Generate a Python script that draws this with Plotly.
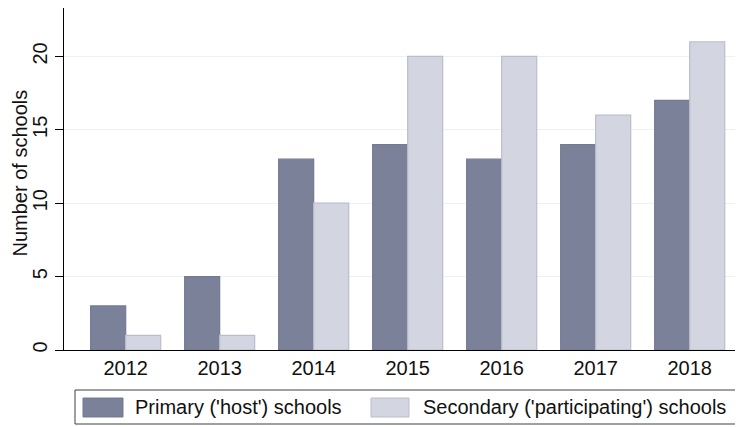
import plotly.graph_objects as go

years = ["2012", "2013", "2014", "2015", "2016", "2017", "2018"]
primary = [3, 5, 13, 14, 13, 14, 17]
secondary = [1, 1, 10, 20, 20, 16, 21]
series_names = ["Primary ('host') schools", "Secondary ('participating') schools"]
y_title = "Number of schools"
colors = ["#7a8199", "#d3d5e0"]
edges = ["#737a93", "#babdcc"]

fig = go.Figure()
for vals, name, c, e in zip([primary, secondary], series_names, colors, edges):
    fig.add_trace(go.Bar(
        x=years, y=vals, name=name,
        marker=dict(color=c, line=dict(color=e, width=1.2)),
    ))

# page body has an 8px margin, so the figure is sized 8px smaller each way
fig.update_layout(
    width=735, height=419,
    margin=dict(l=56, r=0, t=0, b=77),
    paper_bgcolor="white", plot_bgcolor="white",
    font=dict(family="Liberation Sans, Arial, sans-serif", size=20, color="#111111"),
    barmode="group", bargap=0.255, bargroupgap=0,
    showlegend=False,
)

# legend box, drawn by hand below the plot
fig.add_shape(type="rect", xref="paper", yref="paper",
              x0=0.0162, x1=0.9926, y0=-0.2164, y1=-0.117,
              line=dict(color="#404040", width=1), fillcolor="white")
sw_x = [(0.028, 0.0869), (0.4521, 0.5081)]
txt_x = [0.1016, 0.5265]
for (x0, x1), tx, name, c, e in zip(sw_x, txt_x, series_names, colors, edges):
    fig.add_shape(type="rect", xref="paper", yref="paper",
                  x0=x0, x1=x1, y0=-0.1959, y1=-0.1404,
                  line=dict(color=e, width=1), fillcolor=c)
    fig.add_annotation(xref="paper", yref="paper", x=tx, y=-0.1667,
                       xanchor="left", yanchor="middle", text=name,
                       showarrow=False, font=dict(size=20))

# y title as a rotated annotation (axis title standoff ignored without automargin)
fig.add_annotation(xref="paper", yref="paper", x=-0.0648, y=0.516,
                   xanchor="center", yanchor="middle", textangle=-90,
                   text=y_title, showarrow=False, font=dict(size=20))

fig.update_xaxes(
    range=[-0.656, 6.567], showline=True, linecolor="#000000", linewidth=1,
    ticks="", showgrid=False, automargin=False,
)
fig.update_yaxes(
    range=[0, 23.3], showline=True, linecolor="#000000", linewidth=1,
    ticks="outside", ticklen=8, tickcolor="#000000",
    tickvals=[0, 5, 10, 15, 20], tickangle=-90,
    showgrid=True, gridcolor="#eaf2f3", gridwidth=1, zeroline=False,
    automargin=False,
)

fig.write_html("out.html")
